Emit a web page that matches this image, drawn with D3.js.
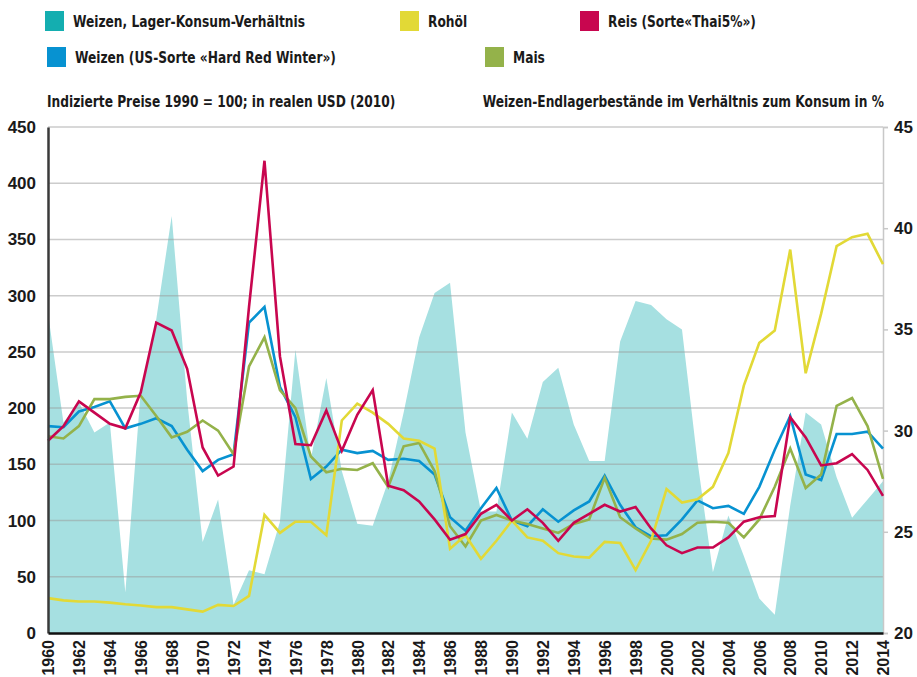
<!DOCTYPE html>
<html lang="de">
<head>
<meta charset="UTF-8">
<title>Weizen, Reis, Mais und Rohöl 1960-2014</title>
<script src="https://d3js.org/d3.v7.min.js"></script>
<style>
  body { margin: 0; background: #fff; }
  svg {
    display: block;
    font-family: "Liberation Sans Narrow", "DejaVu Sans Condensed", "Roboto Condensed", sans-serif;
    font-weight: bold;
    fill: #1a1a1a;
  }
  .grid line { stroke: #999; stroke-opacity: 0.5; stroke-width: 1.5px; }
  .axis text { fill: #1a1a1a; }
  .series { fill: none; stroke-width: 2.6px; stroke-linejoin: miter; }
</style>
</head>
<body>
<svg width="917" height="677"></svg>
<script>
const years = d3.range(1960, 2015);

// Weizen-Endlagerbestände in % vom Konsum (rechte Achse)
const stocksRatio = [35.8, 30.4, 31.4, 29.9, 30.4, 22.0, 32.0, 35.5, 40.6, 31.5,
  24.5, 26.6, 21.4, 23.1, 22.9, 25.5, 34.0, 28.6, 32.6, 28.0,
  25.4, 25.3, 27.5, 30.9, 34.6, 36.8, 37.3, 29.9, 26.0, 26.0,
  30.9, 29.6, 32.4, 33.1, 30.3, 28.5, 28.5, 34.4, 36.4, 36.2,
  35.5, 35.0, 28.5, 23.0, 25.8, 23.8, 21.7, 20.9, 26.3, 30.9,
  30.3, 27.7, 25.7, 26.6, 27.5];

// Preisindizes 1990 = 100 (linke Achse)
const wheatHRW = [184, 183, 197, 201, 206, 182, 186, 191, 184, 163,
  144, 154, 159, 276, 290, 219, 192, 137, 148, 163,
  160, 162, 154, 155, 153, 141, 103, 91, 111, 129,
  100, 95, 110, 99, 109, 117, 140, 114, 94, 86,
  87, 101, 118, 111, 113, 106, 130, 163, 193, 141,
  136, 177, 177, 179, 164];

const rice = [171, 184, 206, 196, 186, 182, 214, 276, 269, 235,
  165, 140, 148, 290, 420, 246, 168, 167, 198, 162,
  194, 216, 131, 127, 117, 101, 83, 88, 106, 114,
  100, 110, 98, 82, 98, 106, 114, 108, 112, 93,
  78, 71, 76, 76, 85, 99, 103, 104, 192, 174,
  149, 151, 159, 145, 122];

const maize = [175, 173, 184, 208, 208, 210, 211, 193, 174, 179,
  189, 180, 159, 237, 263, 216, 200, 157, 143, 146,
  145, 151, 130, 166, 169, 144, 95, 77, 100, 105,
  100, 97, 93, 89, 97, 101, 138, 103, 93, 84,
  83, 88, 98, 99, 98, 85, 101, 130, 164, 129,
  141, 202, 209, 184, 137];

const crudeOil = [31, 29, 28, 28, 27, 25.5, 24.5, 23, 23, 21,
  19, 25, 24, 33, 105, 89, 99, 99, 87, 189,
  204, 196, 186, 173, 171, 164, 75, 87, 66, 82,
  100, 85, 82, 71, 68, 67, 81, 80, 56, 82,
  128, 116, 119, 130, 160, 220, 258, 269, 341, 231,
  284, 344, 352, 355, 328];

const legendNames = ["Weizen, Lager-Konsum-Verhältnis", "Rohöl", "Reis (Sorte«Thai5%»)",
  "Weizen (US-Sorte «Hard Red Winter»)", "Mais"];
const legendColors = ["#14aeb0", "#e2d936", "#c8064f", "#0792d1", "#94b24a"];

const svg = d3.select("svg");
const x = d3.scaleLinear().domain([1960, 2014]).range([48, 883]);
const yL = d3.scaleLinear().domain([0, 450]).range([633, 127]);
const yR = d3.scaleLinear().domain([20, 45]).range([633, 127]);

// text squeezed horizontally, the installed fonts are wider than the original
const squeeze = 0.85;
function label(parent, tx, ty, str, anchor) {
  return parent.append("text")
    .attr("transform", `translate(${tx},${ty}) scale(${squeeze},1)`)
    .attr("font-size", 16)
    .attr("text-anchor", anchor || "start")
    .text(str);
}

// legend
const legPos = [[45, 11], [400, 11], [580, 11], [47, 47], [485, 47]];
const leg = svg.append("g").selectAll("g")
  .data(legendNames)
  .join("g")
  .attr("transform", (d, i) => `translate(${legPos[i][0]},${legPos[i][1]})`);
leg.append("rect").attr("width", 19).attr("height", 20).attr("fill", (d, i) => legendColors[i]);
leg.each(function (d) { label(d3.select(this), 28, 16, d); });

label(svg, 47, 107, "Indizierte Preise 1990 = 100; in realen USD (2010)");
label(svg, 884, 107, "Weizen-Endlagerbestände im Verhältnis zum Konsum in %", "end");

// stocks area
const stockData = years.map((yr, i) => ({ year: yr, v: stocksRatio[i] }));
svg.append("path")
  .datum(stockData)
  .attr("fill", "#a6e0e1")
  .attr("d", d3.area().x(d => x(d.year)).y0(yR(20)).y1(d => yR(d.v)));

// grid
svg.append("g").attr("class", "grid")
  .selectAll("line")
  .data(d3.range(50, 451, 50))
  .join("line")
  .attr("x1", x(1960)).attr("x2", x(2014))
  .attr("y1", d => yL(d)).attr("y2", d => yL(d));

// right axis
const rAxis = svg.append("g").attr("class", "axis")
  .attr("transform", `translate(${x(2014)},0)`)
  .call(d3.axisRight(yR).tickValues([20, 25, 30, 35, 40, 45]).tickSize(5).tickPadding(6));
rAxis.select(".domain").attr("stroke", "#c8c8c8").attr("stroke-width", 1.5);
rAxis.selectAll(".tick line").attr("stroke", "#c8c8c8").attr("stroke-width", 1.5);
rAxis.selectAll("text").attr("font-size", 17).attr("font-weight", "bold")
  .attr("font-family", null);

// price lines
const seriesList = [
  { values: wheatHRW, color: legendColors[3] },
  { values: maize, color: legendColors[4] },
  { values: crudeOil, color: legendColors[1] },
  { values: rice, color: legendColors[2] }
];
const line = d3.line().x((d, i) => x(years[i])).y(d => yL(d));
svg.append("g").selectAll("path")
  .data(seriesList)
  .join("path")
  .attr("class", "series")
  .attr("stroke", d => d.color)
  .attr("d", d => line(d.values));

// left axis
const lAxis = svg.append("g").attr("class", "axis")
  .attr("transform", `translate(${x(1960)},0)`)
  .call(d3.axisLeft(yL).tickValues(d3.range(0, 451, 50)).tickSize(0).tickPadding(12));
lAxis.select(".domain").attr("stroke", "#3a3a3a").attr("stroke-width", 2.5);
lAxis.selectAll("text").attr("font-size", 17).attr("font-weight", "bold")
  .attr("font-family", null);

// bottom axis
const bAxis = svg.append("g").attr("class", "axis")
  .attr("transform", `translate(0,${yL(0)})`)
  .call(d3.axisBottom(x).tickValues(d3.range(1960, 2015, 2)).tickFormat(d3.format("d")).tickSize(0));
bAxis.select(".domain").attr("stroke", "#111").attr("stroke-width", 2.5);
bAxis.selectAll("text")
  .attr("font-size", 16).attr("font-weight", "bold").attr("font-family", null)
  .attr("text-anchor", "end")
  .attr("transform", "rotate(-90)")
  .attr("x", -7).attr("y", 0).attr("dy", "0.36em");
</script>
</body>
</html>
